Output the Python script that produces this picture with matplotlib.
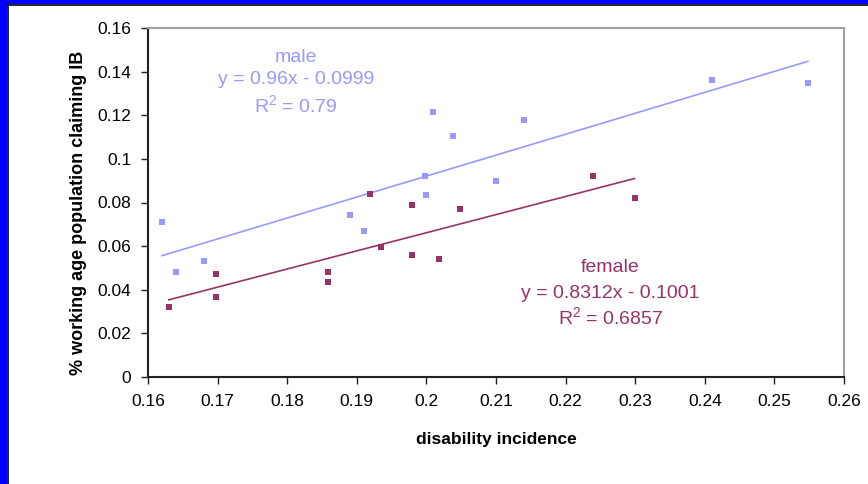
import matplotlib
matplotlib.use("Agg")
import matplotlib.pyplot as plt
from matplotlib.patches import Rectangle
from matplotlib.ticker import FuncFormatter, MultipleLocator
import numpy as np

plt.rcParams["font.family"] = ["Liberation Sans", "DejaVu Sans"]
plt.rcParams["mathtext.fontset"] = "custom"
plt.rcParams["mathtext.rm"] = "Liberation Sans"

# ==========================================================
# Data
# ==========================================================

male_x = [0.162, 0.164, 0.168, 0.189, 0.191, 0.1998, 0.200, 0.201, 0.2038,
          0.210, 0.214, 0.241, 0.2548]
male_y = [0.071, 0.048, 0.053, 0.0743, 0.0671, 0.092, 0.0834, 0.1215, 0.1105,
          0.090, 0.1176, 0.136, 0.1348]

female_x = [0.163, 0.1698, 0.1698, 0.1858, 0.1858, 0.1919, 0.1935, 0.198,
            0.198, 0.2018, 0.2048, 0.2239, 0.2299]
female_y = [0.0322, 0.0474, 0.0368, 0.048, 0.0434, 0.0841, 0.0598, 0.0789,
            0.0558, 0.0539, 0.0769, 0.092, 0.0822]

# trendline coefficients printed on the chart
male_fit = (0.96, -0.0999)
female_fit = (0.8312, -0.1001)

male_color = "#9999FF"
female_color = "#993366"

# ==========================================================
# Figure
# ==========================================================

fig = plt.figure(figsize=(8.68, 4.84), dpi=100)
ax = fig.add_axes([148 / 868, 1 - 377 / 484, 696 / 868, 349 / 484])

ax.scatter(male_x, male_y, marker="s", s=20, color=male_color,
           linewidths=0, zorder=3)
ax.scatter(female_x, female_y, marker="s", s=20, color=female_color,
           linewidths=0, zorder=3)

# linear trendlines over each series range
for xs, (m, b), c in [(male_x, male_fit, male_color),
                      (female_x, female_fit, female_color)]:
    xr = np.array([min(xs), max(xs)])
    ax.plot(xr, m * xr + b, color=c, linewidth=1.2, zorder=2)

ax.set_xlim(0.16, 0.26)
ax.set_ylim(0, 0.16)
ax.xaxis.set_major_locator(MultipleLocator(0.01))
ax.yaxis.set_major_locator(MultipleLocator(0.02))
fmt = FuncFormatter(lambda v, p: "%g" % round(v, 4))
ax.xaxis.set_major_formatter(fmt)
ax.yaxis.set_major_formatter(fmt)
ax.tick_params(axis="both", direction="out", length=5, width=1,
               labelsize=12.5, color="#222222", pad=7)

ax.spines["left"].set_color("#222222")
ax.spines["bottom"].set_color("#222222")
ax.spines["top"].set_color("#a0a0a0")
ax.spines["right"].set_color("#a0a0a0")
for s in ax.spines.values():
    s.set_linewidth(1.5)

ax.set_xlabel("disability incidence", fontsize=12.5, fontweight="bold",
              labelpad=17)
ax.set_ylabel("% working age population claiming IB", fontsize=13,
              fontweight="bold")
ax.yaxis.set_label_coords(-0.088, 0.47)

# trendline annotations
tsize = 14
ax.text(0.1813, 0.1463, "male", color=male_color, fontsize=tsize,
        ha="center", va="center")
ax.text(0.1813, 0.1362, "y = 0.96x - 0.0999", color=male_color,
        fontsize=tsize, ha="center", va="center")
ax.text(0.1813, 0.1243, "R$^2$ = 0.79", color=male_color, fontsize=tsize,
        ha="center", va="center")

ax.text(0.2264, 0.0500, "female", color=female_color, fontsize=tsize,
        ha="center", va="center")
ax.text(0.2264, 0.0385, "y = 0.8312x - 0.1001", color=female_color,
        fontsize=tsize, ha="center", va="center")
ax.text(0.2264, 0.0271, "R$^2$ = 0.6857", color=female_color, fontsize=tsize,
        ha="center", va="center")

# slide frame (blue band on left and top)
fig.patches.append(Rectangle((0, 0), 7 / 868, 1, transform=fig.transFigure,
                             facecolor="#0000FF", edgecolor="none"))
fig.patches.append(Rectangle((0, 1 - 4 / 484), 1, 4 / 484,
                             transform=fig.transFigure,
                             facecolor="#0000FF", edgecolor="none"))
fig.add_artist(plt.Line2D([7.5 / 868, 7.5 / 868], [0, 1 - 4 / 484],
                          transform=fig.transFigure, color="black",
                          linewidth=1.2))
fig.add_artist(plt.Line2D([7.5 / 868, 1], [1 - 4.5 / 484, 1 - 4.5 / 484],
                          transform=fig.transFigure, color="black",
                          linewidth=1.2))

fig.savefig("out.png", dpi=100)
